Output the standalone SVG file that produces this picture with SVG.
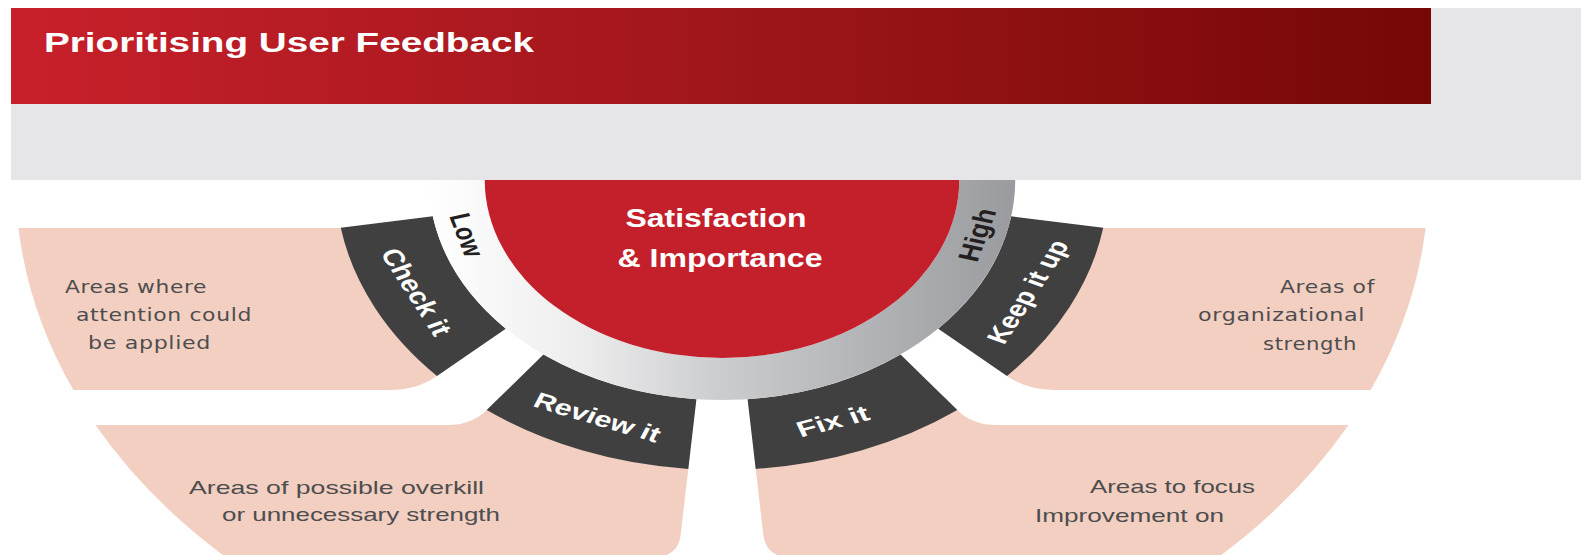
<svg xmlns="http://www.w3.org/2000/svg" width="1588" height="555" viewBox="0 0 1588 555">
<defs>
  <linearGradient id="hdrGrad" x1="11" y1="0" x2="1431" y2="0" gradientUnits="userSpaceOnUse">
    <stop offset="0" stop-color="#c8202b"/>
    <stop offset="0.55" stop-color="#9b1519"/>
    <stop offset="1" stop-color="#760707"/>
  </linearGradient>
  <linearGradient id="ringGrad" x1="-220" y1="0" x2="220" y2="0" gradientUnits="userSpaceOnUse">
    <stop offset="0" stop-color="#ffffff"/>
    <stop offset="0.25" stop-color="#eeeeef"/>
    <stop offset="0.5" stop-color="#cbccce"/>
    <stop offset="1" stop-color="#9a9b9e"/>
  </linearGradient>
</defs>
<style>
  .area{fill:#f2cfc0}
  .band{fill:#404041}
  .blbl{font-family:"Liberation Sans",Arial,sans-serif;font-weight:bold;font-size:22px;fill:#ffffff;text-anchor:middle}
  .slbl{font-family:"Liberation Sans",Arial,sans-serif;font-weight:bold;font-size:22px;fill:#231f20;text-anchor:middle}
  .note{font-family:"DejaVu Sans",Verdana,sans-serif;font-size:17px;letter-spacing:0.5px;fill:#4d4d4f}
  .note2{font-family:"Liberation Sans",Arial,sans-serif;font-size:19px;fill:#4d4d4f}
  .hub{font-family:"Liberation Sans",Arial,sans-serif;font-weight:bold;font-size:26px;fill:#ffffff;text-anchor:middle}
  .title{font-family:"Liberation Sans",Arial,sans-serif;font-weight:bold;font-size:28px;fill:#ffffff}
</style>
<rect x="0" y="0" width="1588" height="555" fill="#ffffff"/>

<g id="area-check">
  <path class="area" transform="translate(722,180) scale(1.333,1)" d="M-527.8,48 L-268,48 A272.3,272.3 0 0 0 -200.54,183.76 L-214.45,196.49 Q-229.2,210 -249.2,210 L-486.6,210 A530,530 0 0 1 -527.8,48 Z"/>
  <text class="note" x="65" y="293" textLength="142" lengthAdjust="spacingAndGlyphs">Areas where</text>
  <text class="note" x="76" y="321" textLength="176" lengthAdjust="spacingAndGlyphs">attention could</text>
  <text class="note" x="88" y="349" textLength="123" lengthAdjust="spacingAndGlyphs">be applied</text>
</g>
<g id="area-keep">
  <path class="area" transform="translate(722,180) scale(1.333,1)" d="M527.8,48 L268,48 A272.3,272.3 0 0 1 200.54,183.76 L214.45,196.49 Q229.2,210 249.2,210 L486.6,210 A530,530 0 0 0 527.8,48 Z"/>
  <text class="note" x="1280" y="293" textLength="95" lengthAdjust="spacingAndGlyphs">Areas of</text>
  <text class="note" x="1198" y="321" textLength="167" lengthAdjust="spacingAndGlyphs">organizational</text>
  <text class="note" x="1263" y="350" textLength="94" lengthAdjust="spacingAndGlyphs">strength</text>
</g>
<g id="area-review">
  <path class="area" transform="translate(722,180) scale(1.333,1)" d="M-470,245 L-206,245 Q-188,245 -177.04,230.72 L-165.58,215.79 A272,272 0 0 0 -23.71,270.96 L-31.15,356.08 Q-33.07,378 -55.07,378 L-371.5,378 A530,530 0 0 1 -470,245 Z"/>
  <text class="note2" x="189" y="494" textLength="295" lengthAdjust="spacingAndGlyphs">Areas of possible overkill</text>
  <text class="note2" x="222" y="521" textLength="278" lengthAdjust="spacingAndGlyphs">or unnecessary strength</text>
</g>
<g id="area-fix">
  <path class="area" transform="translate(722,180) scale(1.333,1)" d="M470,245 L206,245 Q188,245 177.04,230.72 L165.58,215.79 A272,272 0 0 1 23.71,270.96 L31.15,356.08 Q33.07,378 55.07,378 L371.5,378 A530,530 0 0 0 470,245 Z"/>
  <text class="note2" x="1090" y="493" textLength="165" lengthAdjust="spacingAndGlyphs">Areas to focus</text>
  <text class="note2" x="1035" y="522" textLength="189" lengthAdjust="spacingAndGlyphs">Improvement on</text>
</g>

<g id="band-check" transform="translate(722,180) scale(1.333,1)">
  <path class="band" d="M-162.2,148.63 A220,220 0 0 1 -216.98,36.31 L-286.02,47.86 A290,290 0 0 0 -213.81,195.92 Z"/>
  <g transform="rotate(154)"><text class="blbl" transform="translate(255,0) rotate(-90)" dy="0.35em" textLength="94" lengthAdjust="spacingAndGlyphs">Check it</text></g>
</g>
<g id="band-review" transform="translate(722,180) scale(1.333,1)">
  <path class="band" d="M-19.18,219.16 A220,220 0 0 1 -133.93,174.54 L-176.54,230.07 A290,290 0 0 0 -25.28,288.9 Z"/>
  <g transform="rotate(111.5)"><text class="blbl" transform="translate(255,0) rotate(-90)" dy="0.35em" textLength="100" lengthAdjust="spacingAndGlyphs">Review it</text></g>
</g>
<g id="band-fix" transform="translate(722,180) scale(1.333,1)">
  <path class="band" d="M133.93,174.54 A220,220 0 0 1 19.18,219.16 L25.28,288.9 A290,290 0 0 0 176.54,230.07 Z"/>
  <g transform="rotate(71)"><text class="blbl" transform="translate(255,0) rotate(-90)" dy="0.35em" textLength="56" lengthAdjust="spacingAndGlyphs">Fix it</text></g>
</g>
<g id="band-keep" transform="translate(722,180) scale(1.333,1)">
  <path class="band" d="M216.98,36.31 A220,220 0 0 1 162.2,148.63 L213.81,195.92 A290,290 0 0 0 286.02,47.86 Z"/>
  <g transform="rotate(26)"><text class="blbl" transform="translate(255,0) rotate(-90)" dy="0.35em" textLength="112" lengthAdjust="spacingAndGlyphs">Keep it up</text></g>
</g>

<g id="hub">
  <g transform="translate(722,180) scale(1.333,1)">
    <path fill="url(#ringGrad)" d="M220,0 A220,220 0 0 1 -220,0 L-178,0 A178,178 0 0 0 178,0 Z"/>
    <path fill="#c4202b" d="M178,0 A178,178 0 0 1 -178,0 Z"/>
    <g transform="rotate(164)"><text class="slbl" transform="translate(199,0) rotate(-90)" dy="0.35em" textLength="44" lengthAdjust="spacingAndGlyphs">Low</text></g>
    <g transform="rotate(16)"><text class="slbl" transform="translate(199,0) rotate(-90)" dy="0.35em" textLength="54" lengthAdjust="spacingAndGlyphs">High</text></g>
  </g>
  <text class="hub" x="716" y="227" textLength="181" lengthAdjust="spacingAndGlyphs">Satisfaction</text>
  <text class="hub" x="720" y="267" textLength="205" lengthAdjust="spacingAndGlyphs">&amp; Importance</text>
</g>

<g id="header">
  <rect x="11" y="8" width="1570" height="172" fill="#e6e6e8"/>
  <rect x="11" y="8" width="1420" height="96" fill="url(#hdrGrad)"/>
  <text class="title" x="44" y="52" textLength="490" lengthAdjust="spacingAndGlyphs">Prioritising User Feedback</text>
</g>
</svg>
